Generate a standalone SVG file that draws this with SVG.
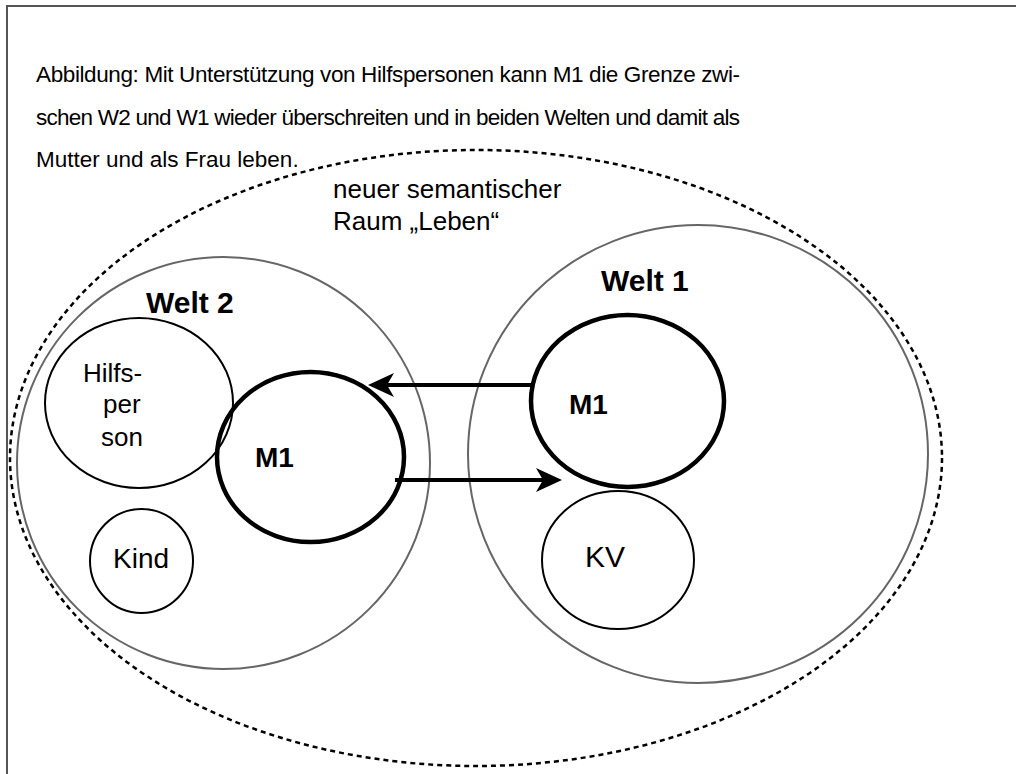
<svg xmlns="http://www.w3.org/2000/svg" width="1016" height="774" viewBox="0 0 1016 774">
<style>
  .t{font-family:"Liberation Sans",Arial,Helvetica,sans-serif;fill:#000}
  .b{font-weight:bold}
  .world{fill:none;stroke:#666;stroke-width:2}
  .thin{fill:none;stroke:#000;stroke-width:2}
  .thick{fill:none;stroke:#000;stroke-width:4.5}
  .frame{stroke:#555;stroke-width:2;fill:none}
  .conn{stroke:#000;stroke-width:4;fill:none}
</style>
<defs>
  <marker id="arr" markerUnits="userSpaceOnUse" markerWidth="26" markerHeight="24" viewBox="0 0 26 24" refX="18" refY="12" orient="auto">
    <path d="M0,0 L26,12 L0,24 L7,12 Z" fill="#000"/>
  </marker>
</defs>
<rect width="1016" height="774" fill="#fff"/>
<g id="frame">
  <path class="frame" d="M7,774 L7,6 L1016,6"/>
</g>
<g id="caption" class="t" font-size="22.5">
  <text x="36" y="82" textLength="704" lengthAdjust="spacing">Abbildung: Mit Unterstützung von Hilfspersonen kann M1 die Grenze zwi-</text>
  <text x="36" y="125" textLength="704" lengthAdjust="spacing">schen W2 und W1 wieder überschreiten und in beiden Welten und damit als</text>
  <text x="36" y="167">Mutter und als Frau leben.</text>
</g>
<g id="raum-leben">
  <ellipse cx="476" cy="458" rx="466" ry="308" fill="none" stroke="#000" stroke-width="2.5" stroke-dasharray="5 4"/>
  <text class="t" font-size="26" x="333" y="198">neuer semantischer</text>
  <text class="t" font-size="26" x="333" y="230">Raum „Leben“</text>
</g>
<g id="welt2">
  <ellipse class="world" cx="223.5" cy="463" rx="206.5" ry="206"/>
  <text class="t b" font-size="30" x="146" y="313">Welt 2</text>
</g>
<g id="welt1">
  <ellipse class="world" cx="698" cy="454" rx="230" ry="229"/>
  <text class="t b" font-size="30" x="601" y="291">Welt 1</text>
</g>
<g id="hilfsperson">
  <ellipse class="thin" cx="139" cy="403" rx="94" ry="85"/>
  <text class="t" font-size="26" x="83" y="382">Hilfs-</text>
  <text class="t" font-size="26" x="103" y="413">per</text>
  <text class="t" font-size="26" x="101" y="446">son</text>
</g>
<g id="kind">
  <ellipse class="thin" cx="141.5" cy="561" rx="51.5" ry="52"/>
  <text class="t" font-size="28" x="113" y="568">Kind</text>
</g>
<g id="m1-welt2">
  <ellipse class="thick" cx="310.5" cy="457" rx="93.5" ry="85"/>
  <text class="t b" font-size="28" x="255" y="467">M1</text>
</g>
<g id="m1-welt1">
  <ellipse class="thick" cx="627.5" cy="401" rx="96.5" ry="86"/>
  <text class="t b" font-size="28" x="569" y="414">M1</text>
</g>
<g id="kv">
  <ellipse class="thin" cx="618" cy="560" rx="76" ry="69"/>
  <text class="t" font-size="30" x="585" y="567">KV</text>
</g>
<g id="connectors">
  <line class="conn" x1="531" y1="385" x2="376" y2="385" marker-end="url(#arr)"/>
  <line class="conn" x1="395" y1="480" x2="554" y2="480" marker-end="url(#arr)"/>
</g>
</svg>
